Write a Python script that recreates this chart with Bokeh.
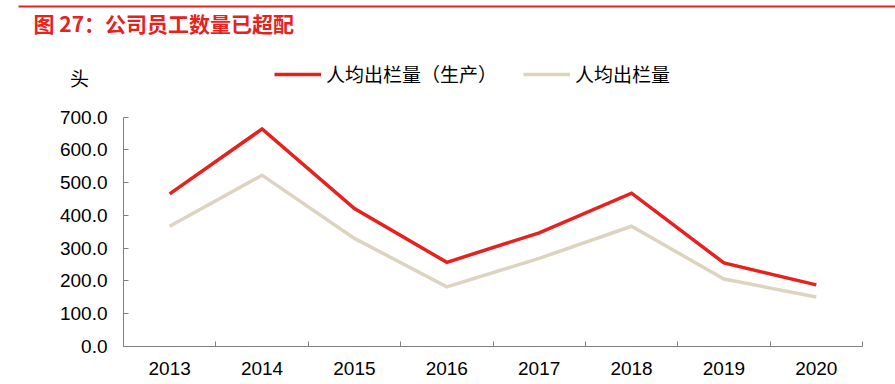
from bokeh.plotting import figure
from bokeh.models import (FixedTicker, NumeralTickFormatter, Legend, LegendItem,
                          Label, BoxAnnotation, Range1d)
from bokeh.embed import file_html
from bokeh.resources import INLINE

years = ["2013", "2014", "2015", "2016", "2017", "2018", "2019", "2020"]
per_capita_production = [466, 664, 421, 257, 347, 468, 255, 188]
per_capita_total = [367, 523, 330, 182, 269, 367, 206, 151]
y_ticks = [0, 100, 200, 300, 400, 500, 600, 700]
title_text = "图 27：公司员工数量已超配"
unit_text = "头"
legend_labels = ["人均出栏量（生产）", "人均出栏量"]

RED = "#E5221E"
BEIGE = "#DDD4BF"
AXIS = "#7F7F7F"
CJK = "Noto Sans CJK SC"
LAT = "Liberation Sans"

# canvas geometry (pixels): plot area of the chart inside the full canvas
W, H = 895, 384
AX_LEFT, AX_RIGHT = 123, 862      # x pixels of category range 0 .. n
AX_BOTTOM, AX_TOP = 346, 116.7    # y pixels of value 0 .. 700

n = len(years)
xu = (AX_RIGHT - AX_LEFT) / n               # px per category
yu = (AX_BOTTOM - AX_TOP) / y_ticks[-1]     # px per value unit


def px2x(px):
    return (px - AX_LEFT) / xu


def py2y(py):
    return (AX_BOTTOM - py) / yu


p = figure(width=W, height=H, output_backend="svg", toolbar_location=None,
           x_range=Range1d(px2x(0), px2x(W)), y_range=Range1d(py2y(H), py2y(0)),
           min_border=0, min_border_left=0, min_border_right=0,
           min_border_top=0, min_border_bottom=0)
p.outline_line_color = None
p.grid.visible = False
p.background_fill_color = "white"
p.border_fill_color = "white"

xs = [i + 0.5 for i in range(n)]
r1 = p.line(xs, per_capita_production, line_color=RED, line_width=3.5, line_join="miter")
r2 = p.line(xs, per_capita_total, line_color=BEIGE, line_width=3.5, line_join="miter")

# x axis: labels at category centres, tick marks at category boundaries
xa = p.xaxis[0]
xa.fixed_location = 0
xa.bounds = (0, n)
xa.ticker = FixedTicker(ticks=xs, minor_ticks=list(range(n + 1)))
xa.major_label_overrides = {x: y for x, y in zip(xs, years)}
xa.major_tick_in = 0
xa.major_tick_out = 0
xa.minor_tick_in = 5
xa.minor_tick_out = 0
xa.minor_tick_line_color = AXIS
xa.axis_line_color = AXIS
xa.major_label_standoff = 15
xa.major_label_text_font = LAT
xa.major_label_text_font_size = "19px"
xa.major_label_text_color = "black"

ya = p.yaxis[0]
ya.fixed_location = 0
ya.bounds = (y_ticks[0], y_ticks[-1])
ya.ticker = FixedTicker(ticks=y_ticks)
ya.formatter = NumeralTickFormatter(format="0.0")
ya.major_tick_in = 5
ya.major_tick_out = 0
ya.minor_tick_in = 0
ya.minor_tick_out = 0
ya.major_tick_line_color = AXIS
ya.axis_line_color = AXIS
ya.major_label_standoff = 16
ya.major_label_text_font = LAT
ya.major_label_text_font_size = "19px"
ya.major_label_text_color = "black"

legend = Legend(items=[LegendItem(label=legend_labels[0], renderers=[r1]),
                       LegendItem(label=legend_labels[1], renderers=[r2])],
                location=(274, H - 87), orientation="horizontal",
                glyph_width=47, glyph_height=20, label_standoff=5, spacing=26,
                padding=0, margin=0, border_line_color=None,
                background_fill_alpha=0,
                label_text_font=CJK, label_text_font_size="19px",
                label_text_color="black")
p.add_layout(legend)

p.add_layout(Label(x=px2x(33), y=py2y(22), text=title_text,
                   text_font=CJK, text_font_size="21px", text_font_style="bold",
                   text_align="left", text_baseline="middle", text_color=RED))
p.add_layout(Label(x=px2x(79), y=py2y(77), text=unit_text,
                   text_font=CJK, text_font_size="19px",
                   text_align="center", text_baseline="middle", text_color="black"))
p.add_layout(BoxAnnotation(left=px2x(18), right=px2x(W), top=py2y(5), bottom=py2y(7),
                           fill_color=RED, fill_alpha=1, line_color=None))

open("out.html", "w").write(file_html(p, INLINE))
